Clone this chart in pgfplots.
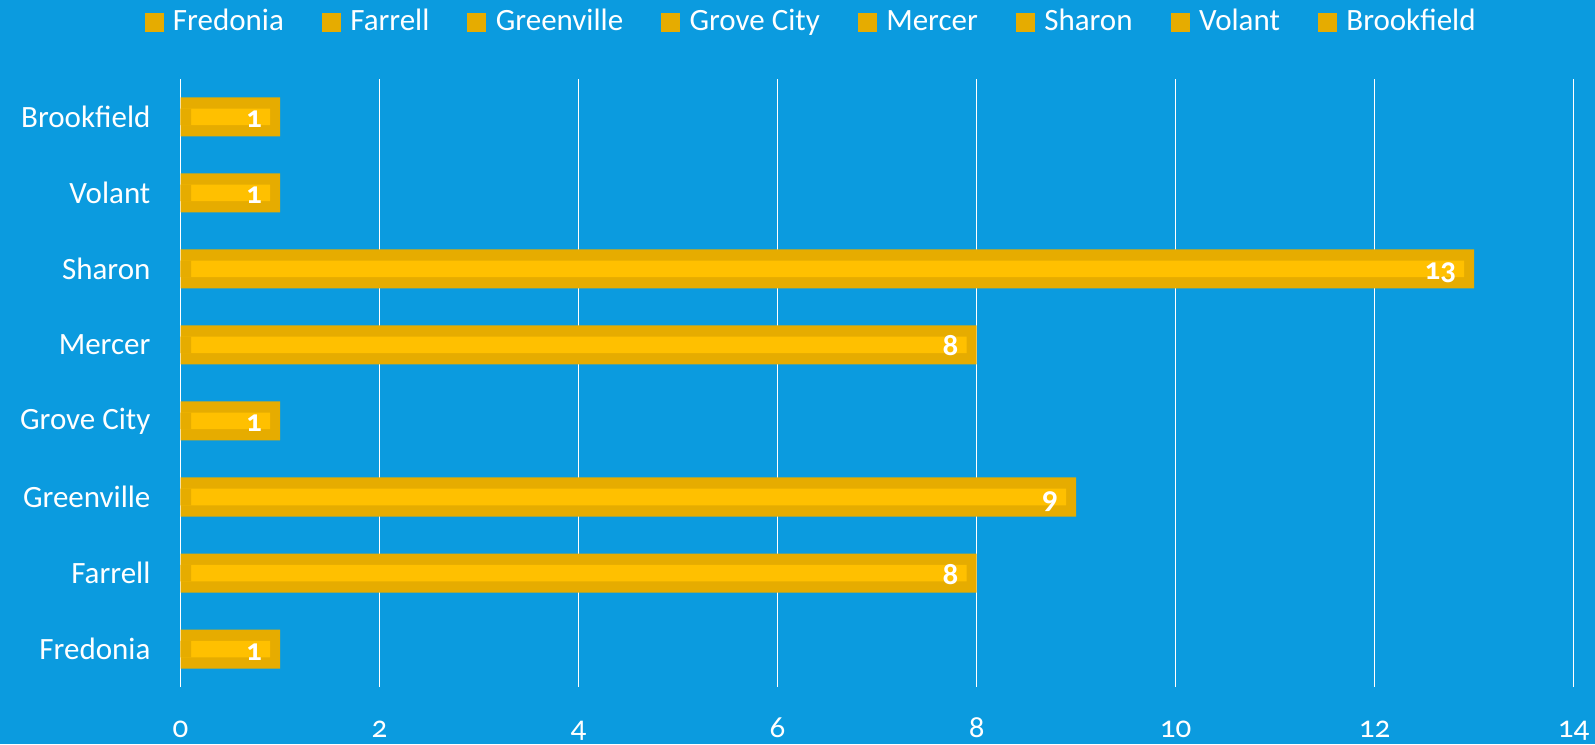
\documentclass[border=0pt]{standalone}
\usepackage{fontspec}
\setmainfont{Carlito}[Numbers=OldStyle]
\usepackage{pgfplots}
\pgfplotsset{compat=1.18}
\definecolor{bg}{RGB}{11,155,223}
\definecolor{barouter}{RGB}{230,172,0}
\definecolor{barinner}{RGB}{255,192,0}
\begin{document}
\begin{tikzpicture}[x=1pt,y=1pt]
\fill[bg] (0,0) rectangle (1595,744);
\path[use as bounding box] (0,0) rectangle (1595,744);
\begin{axis}[
  at={(180.6pt,57pt)}, anchor=south west,
  scale only axis, width=1393pt, height=608pt,
  xmin=0, xmax=14, ymin=-0.5, ymax=7.5,
  xtick={0,2,...,14}, ytick={0,...,7},
  yticklabels={Fredonia,Farrell,Greenville,Grove City,Mercer,Sharon,Volant,Brookfield},
  axis line style={draw=none},
  major tick length=0pt,
  xmajorgrids, major grid style={white, line width=1.6pt},
  /pgf/number format/assume math mode=true,
  ticklabel style={text=white, font=\fontsize{31pt}{37pt}\selectfont, inner sep=0pt},
  xticklabel style={anchor=base, yshift=-50pt},
  yticklabel style={anchor=east, xshift=-30pt},
  legend style={at={(axis description cs:0.4526,1.0929)}, anchor=center,
    draw=none, fill=none, text=white, font=\fontsize{31pt}{37pt}\selectfont,
    legend columns=8,
    nodes={text height=22pt, text depth=7pt},
    /tikz/every even column/.append style={column sep=36pt}},
  legend image code/.code={\fill[barouter] (0pt,-9pt) rectangle (18pt,9pt); \path (26pt,0pt);},
]
\addplot[xbar, bar shift=0pt, bar width=39pt, fill=barouter, draw=none, forget plot]
  coordinates {(1,0) (8,1) (9,2) (1,3) (8,4) (13,5) (1,6) (1,7)};
\addplot[xbar, bar shift=0pt, bar width=16.5pt, fill=barinner, draw=none, forget plot,
  point meta=explicit symbolic,
  nodes near coords,
  nodes near coords style={anchor=base east, xshift=-8pt, yshift=-11pt, text=white,
    inner sep=0pt, font=\fontsize{31pt}{36pt}\selectfont\bfseries}]
  coordinates {(0.9,0) [1] (7.9,1) [8] (8.9,2) [9] (0.9,3) [1] (7.9,4) [8] (12.9,5) [13] (0.9,6) [1] (0.9,7) [1]};
\addplot[xbar, bar shift=0pt, bar width=16.5pt, fill=barouter, draw=none, forget plot]
  coordinates {(0.105,0) (0.105,1) (0.105,2) (0.105,3) (0.105,4) (0.105,5) (0.105,6) (0.105,7)};
\addlegendimage{barouter}
\addlegendimage{barouter}
\addlegendimage{barouter}
\addlegendimage{barouter}
\addlegendimage{barouter}
\addlegendimage{barouter}
\addlegendimage{barouter}
\addlegendimage{barouter}
\legend{Fredonia,Farrell,Greenville,Grove City,Mercer,Sharon,Volant,Brookfield}
\end{axis}
\end{tikzpicture}
\end{document}
